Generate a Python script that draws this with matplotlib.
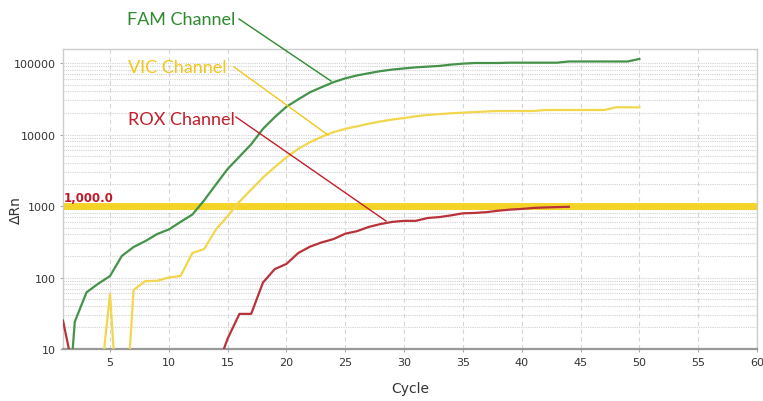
import numpy as np
import matplotlib.pyplot as plt
from matplotlib.lines import Line2D
from matplotlib.ticker import FixedLocator, LogLocator, NullFormatter

# amplification data (delta Rn per cycle), values under 10 sit below the axis floor
fam_cycles = list(range(1, 51))
fam_rn = [0.15, 24, 62, 82, 105, 200, 267, 323, 405, 470,
          600, 760, 1200, 2000, 3300, 4900, 7300, 12000, 17500, 24500,
          31000, 39000, 46000, 54000, 61000, 67000, 72000, 77000, 81000, 84000,
          87000, 89000, 91000, 95000, 98000, 100000, 100000, 100000, 101000, 101000,
          101000, 101000, 101000, 105000, 105000, 105000, 105000, 105000, 105000, 114000]

vic_cycles = list(range(1, 51))
vic_rn = [1, 1, 1, 1.7, 59, 0.16, 67, 89, 90, 100,
          105, 220, 250, 470, 720, 1150, 1700, 2500, 3500, 4800,
          6300, 7800, 9300, 10800, 12000, 13000, 14200, 15200, 16200, 17000,
          18000, 18800, 19300, 19800, 20200, 20600, 21000, 21300, 21300, 21300,
          21300, 22000, 22000, 22000, 22000, 22000, 22000, 24000, 24000, 24000]

rox_cycles = list(range(1, 45))
rox_rn = [25, 4, 3, 3, 3, 3, 3, 3, 3, 3,
          3, 3, 3, 5, 14, 31, 31, 85, 131, 155,
          220, 270, 310, 345, 410, 445, 510, 560, 600, 620,
          620, 680, 700, 740, 790, 800, 820, 860, 890, 910,
          940, 955, 965, 975]

threshold = 1000.0
x_ticks = [5, 10, 15, 20, 25, 30, 35, 40, 45, 50, 55, 60]
y_ticks = [10, 100, 1000, 10000, 100000]

fam_color = '#45934a'
vic_color = '#f2d64b'
rox_color = '#b8323a'

narrow = ['Liberation Sans Narrow', 'DejaVu Sans']

fig = plt.figure(figsize=(7.63, 4.02), dpi=100)
ax = fig.add_axes([63 / 763, 1 - 350 / 402, (757 - 63) / 763, 300 / 402])

ax.set_yscale('log')
ax.set_xlim(1, 60)
ax.set_ylim(10, 157000)

# grid: dashed verticals every 5 cycles, dotted horizontals on every log step
ax.xaxis.set_major_locator(FixedLocator(x_ticks))
ax.yaxis.set_major_locator(FixedLocator(y_ticks))
ax.yaxis.set_minor_locator(LogLocator(base=10, subs=np.arange(2, 10)))
ax.yaxis.set_minor_formatter(NullFormatter())
ax.set_yticklabels([str(v) for v in y_ticks])
ax.grid(True, axis='x', which='major', color='#d6d6d6', linestyle=(0, (4, 3)), linewidth=0.8)
ax.grid(True, axis='y', which='both', color='#d2d2d2', linestyle=(0, (1, 1)), linewidth=0.8)
ax.set_axisbelow(True)

for side in ['top', 'right', 'left']:
    ax.spines[side].set_color('#cccccc')
    ax.spines[side].set_linewidth(1.0)
ax.spines['bottom'].set_color('#999999')
ax.spines['bottom'].set_linewidth(1.6)

ax.tick_params(axis='both', which='major', length=2, color='#aaaaaa', labelsize=8, labelcolor='#333333')
ax.tick_params(axis='y', which='minor', length=0)
for lab in ax.get_xticklabels() + ax.get_yticklabels():
    lab.set_family(narrow)

# threshold line
ax.axhline(threshold, color='#f5d010', linewidth=5, alpha=0.9, zorder=2)
ax.text(1.1, threshold * 1.08, '1,000.0', color='#c0182a', fontsize=8.5,
        family=narrow, fontweight='bold', va='bottom', ha='left', zorder=4)

ax.plot(fam_cycles, fam_rn, color=fam_color, linewidth=1.6, zorder=3)
ax.plot(vic_cycles, vic_rn, color=vic_color, linewidth=1.6, zorder=3)
ax.plot(rox_cycles, rox_rn, color=rox_color, linewidth=1.6, zorder=3)

ax.set_xlabel('Cycle', fontsize=10, color='#333333')
ax.set_ylabel('\u0394Rn', fontsize=10, color='#333333')
ax.xaxis.set_label_coords((410 - 63) / 694, (350 - 382) / 300)
ax.yaxis.set_label_coords((23 - 63) / 694, (350 - 210) / 300)


def px(x, y):
    return x / 763, 1 - y / 402


# channel labels with leader lines
labels = [('FAM Channel', '#2f8a2f', (127, 20), (239, 20), (331, 82)),
          ('VIC Channel', '#f2c61c', (128, 68), (234, 68), (328, 136)),
          ('ROX Channel', '#c41e2a', (128, 120), (236, 118), (386, 222))]
for text, color, tpos, start, end in labels:
    fig.text(*px(*tpos), text, color=color, fontsize=13, family='Lato',
             ha='left', va='center')
    (x0, y0), (x1, y1) = px(*start), px(*end)
    fig.add_artist(Line2D([x0, x1], [y0, y1], color=color, linewidth=1.0,
                          transform=fig.transFigure, zorder=5))

fig.savefig('out.png', dpi=100)
